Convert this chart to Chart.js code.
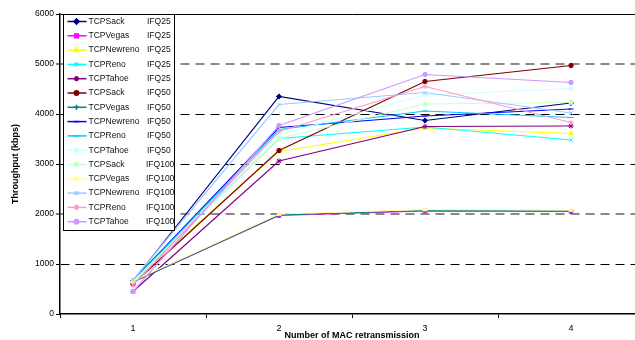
<!DOCTYPE html>
<html>
<head>
<meta charset="utf-8">
<script src="https://cdn.jsdelivr.net/npm/chart.js@4.4.0/dist/chart.umd.min.js"></script>
<style>
  html, body { margin: 0; padding: 0; background: #fff; overflow: hidden; }
  #wrap { width: 660px; height: 340px; }
</style>
</head>
<body>
<div id="wrap"><canvas id="chart1" width="660" height="340"></canvas></div>
<script>
// valeurs (kbps)
var retransmissions = ["1", "2", "3", "4"];
var yTicks = [0, 1000, 2000, 3000, 4000, 5000, 6000];

var protocols = ["TCPSack", "TCPVegas", "TCPNewreno", "TCPReno", "TCPTahoe"];
var queues = ["IFQ25", "IFQ50", "IFQ100"];

var sack25     = [660, 4350, 3870, 4220];
var vegas25    = [640, 1970, 2060, 2050];
var newreno25  = [650, 3250, 3720, 3610];
var reno25     = [660, 3510, 3740, 3480];
var tahoe25    = [450, 3060, 3750, 3760];
var sack50     = [600, 3270, 4650, 4970];
var vegas50    = [640, 1980, 2070, 2060];
var newreno50  = [670, 3730, 3960, 4100];
var reno50     = [660, 3690, 4060, 3930];
var tahoe50    = [640, 3590, 4380, 4510];
var sack100    = [650, 3510, 4200, 4230];
var vegas100   = [660, 2000, 2090, 2080];
var newreno100 = [680, 4190, 4430, 4020];
var reno100    = [580, 3650, 4550, 3830];
var tahoe100   = [450, 3770, 4790, 4630];

var series = [sack25, vegas25, newreno25, reno25, tahoe25,
              sack50, vegas50, newreno50, reno50, tahoe50,
              sack100, vegas100, newreno100, reno100, tahoe100];

// styles (palette Excel)
var colors = ["#000080", "#FF00FF", "#FFFF00", "#00FFFF", "#800080",
              "#800000", "#008080", "#0000FF", "#00CCFF", "#CCFFFF",
              "#CCFFCC", "#FFFF99", "#99CCFF", "#FF99CC", "#CC99FF"];
var markers = ["rectRot", "rect", "triangle", "crossRot", "star",
               "circle", "cross", "line", "line", "rectRot",
               "rect", "triangle", "crossRot", "star", "circle"];

var font = "'Liberation Sans', Arial, sans-serif";

var datasets = series.map(function (values, i) {
  return {
    label: protocols[i % 5] + " " + queues[Math.floor(i / 5)],
    data: values,
    borderColor: colors[i],
    backgroundColor: colors[i],
    pointBackgroundColor: colors[i],
    pointBorderColor: colors[i],
    pointStyle: markers[i],
    pointRadius: markers[i] === "circle" ? 2.2 : 2.6,
    pointBorderWidth: 1,
    borderWidth: 1.2,
    tension: 0,
    fill: false,
    order: series.length - i
  };
});

// cadre de légende dans la zone du graphique
var legendBox = {
  id: "legendBox",
  afterDatasetsDraw: function (chart) {
    var ctx = chart.ctx;
    var x0 = chart.chartArea.left + 3.5, y0 = chart.chartArea.top + 0.5;
    var w = 111, h = 216, rowH = 14.3;
    ctx.save();
    ctx.fillStyle = "#fff";
    ctx.strokeStyle = "#000";
    ctx.lineWidth = 1;
    ctx.setLineDash([]);
    ctx.fillRect(x0, y0, w, h);
    ctx.strokeRect(x0, y0, w, h);
    chart.data.datasets.forEach(function (ds, i) {
      var y = y0 + 7 + i * rowH;
      ctx.strokeStyle = ds.borderColor;
      ctx.fillStyle = ds.borderColor;
      ctx.lineWidth = 1.5;
      ctx.beginPath();
      ctx.moveTo(x0 + 4, y);
      ctx.lineTo(x0 + 23, y);
      ctx.stroke();
      Chart.helpers.drawPoint(ctx, { pointStyle: ds.pointStyle, radius: ds.pointRadius, borderWidth: 1, rotation: 0 }, x0 + 13, y);
      ctx.fillStyle = "#111";
      ctx.font = "8.5px " + font;
      ctx.textBaseline = "middle";
      ctx.textAlign = "left";
      ctx.fillText(protocols[i % 5], x0 + 25, y);
      var q = queues[Math.floor(i / 5)];
      ctx.fillText(q, x0 + (q.length > 5 ? 82.5 : 83.5), y);
    });
    ctx.restore();
  }
};

new Chart(document.getElementById("chart1"), {
  type: "line",
  data: { labels: retransmissions, datasets: datasets },
  options: {
    responsive: false,
    animation: false,
    layout: { padding: { top: 14, right: 16, left: 0, bottom: 0 } },
    plugins: {
      legend: { display: false },
      title: { display: false },
      tooltip: { enabled: false }
    },
    scales: {
      x: {
        offset: true,
        grid: {
          offset: true,
          drawOnChartArea: false,
          drawTicks: true,
          tickLength: 4,
          tickColor: "#000",
          tickWidth: 1
        },
        border: { display: true, color: "#000", width: 1.5 },
        ticks: { color: "#000", padding: 5, font: { family: font, size: 9 } },
        title: {
          display: true,
          text: "Number of MAC retransmission",
          color: "#000",
          padding: { top: 0, bottom: 0 },
          font: { family: font, size: 9, weight: "bold", lineHeight: 1 }
        },
        afterFit: function (scale) { scale.height = 26; }
      },
      y: {
        min: 0,
        max: 6000,
        afterBuildTicks: function (scale) {
          scale.ticks = yTicks.map(function (v) { return { value: v }; });
        },
        grid: {
          color: function (c) {
            var v = c.tick ? c.tick.value : 0;
            if (v === 0) return "rgba(0,0,0,0)";
            if (v === 2000 || v === 5000) return "#8a8a8a";
            return "#000";
          },
          lineWidth: function (c) {
            var v = c.tick ? c.tick.value : 0;
            return (v === 2000 || v === 5000) ? 2 : 1;
          },
          tickLength: 4,
          tickColor: "#000",
          tickWidth: 1
        },
        border: {
          display: true,
          color: "#000",
          width: 1.5,
          dash: function (c) {
            var v = c.tick ? c.tick.value : 0;
            return v === 6000 ? [] : [9, 6];
          }
        },
        ticks: {
          color: "#000",
          padding: 2,
          font: { family: font, size: 8.5 },
          callback: function (value) { return String(value); }
        },
        title: {
          display: true,
          text: "Throughput (kbps)",
          color: "#000",
          padding: { top: 10, bottom: 0 },
          font: { family: font, size: 9, weight: "bold" }
        },
        afterFit: function (scale) { scale.width = 60; }
      }
    }
  },
  plugins: [legendBox]
});
</script>
</body>
</html>
